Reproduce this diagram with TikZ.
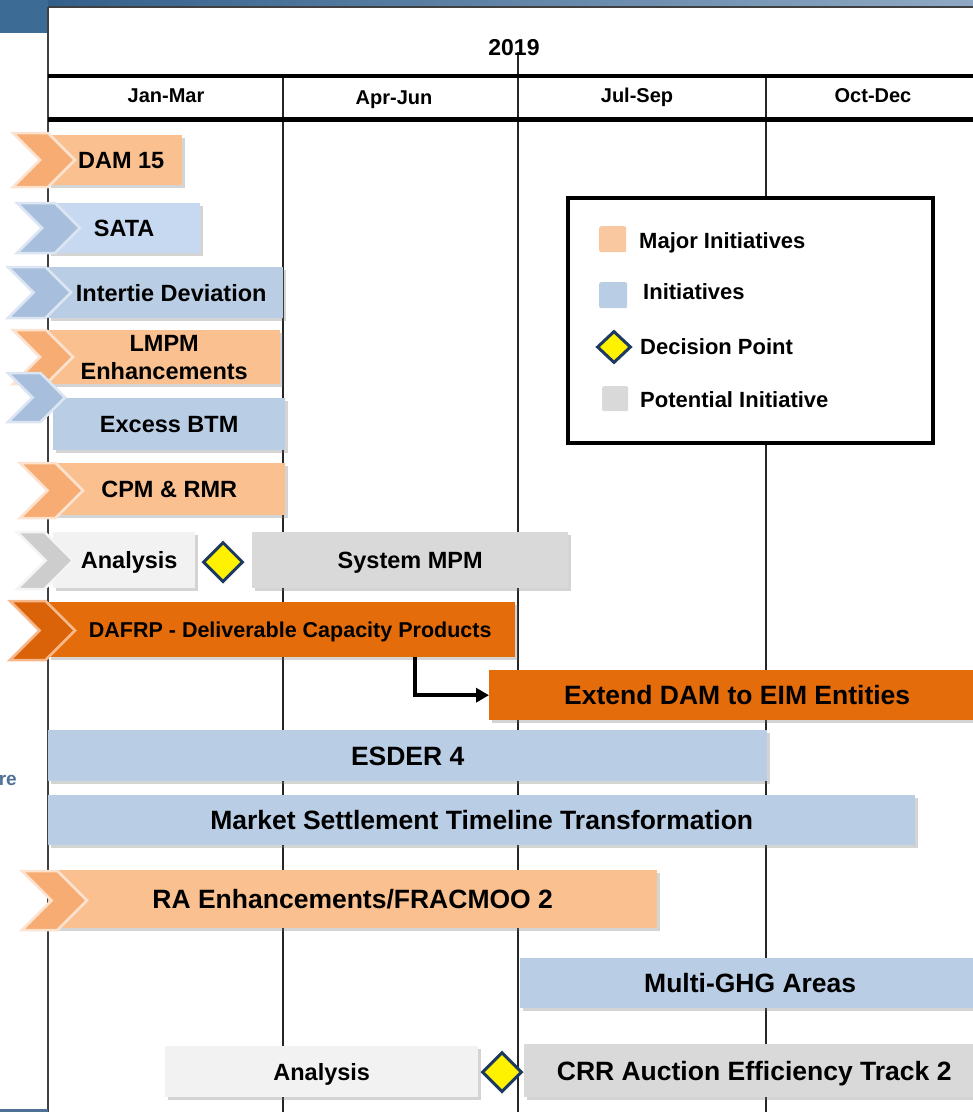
\documentclass[tikz,border=0pt]{standalone}
\usepackage{fontspec}
\setmainfont{Liberation Sans}
\usetikzlibrary{shapes.geometric,shadows,arrows.meta}

\definecolor{lorange}{HTML}{FAC090}
\definecolor{chevor}{HTML}{F6AC72}
\definecolor{chevorb}{HTML}{FDE3CF}
\definecolor{lblue}{HTML}{B9CDE5}
\definecolor{lblueb}{HTML}{C6D9F0}
\definecolor{chevbl}{HTML}{A7BEDC}
\definecolor{chevblb}{HTML}{DCE6F2}
\definecolor{vlgray}{HTML}{F2F2F2}
\definecolor{mgray}{HTML}{D9D9D9}
\definecolor{chevgr}{HTML}{CDCDCD}
\definecolor{chevgrb}{HTML}{F4F4F4}
\definecolor{dorange}{HTML}{E46C0A}
\definecolor{chevdo}{HTML}{DA6208}
\definecolor{chevdob}{HTML}{F6B88A}
\definecolor{navy}{HTML}{1F3A60}
\definecolor{bandL}{HTML}{2E5C88}
\definecolor{bandR}{HTML}{8FA9C4}
\definecolor{bandblock}{HTML}{3C6B95}
\definecolor{retext}{HTML}{4F7096}
\definecolor{legor}{HTML}{FAC8A0}

\newcommand\mychev[6]{%
  \pgfmathsetmacro\chp{(#4-#3)*0.5}%
  \pgfmathsetmacro\chm{(#3+#4)/2}%
  \filldraw[fill=#5, draw=#6, line width=2.5pt, line join=miter]
    (#1,#3) -- ({#2-\chp},#3) -- (#2,\chm) -- ({#2-\chp},#4) -- (#1,#4) -- ({#1+\chp},\chm) -- cycle;
}

\tikzset{
  bar/.style={rectangle, anchor=north west, inner sep=0pt,
    font=\fontsize{23.5}{28}\selectfont\bfseries, text height=16.8pt, text depth=0pt,
    drop shadow={shadow xshift=3pt, shadow yshift=-3pt, fill=black!55, opacity=0.3}},
  bigbar/.style={bar, font=\fontsize{26.5}{31}\selectfont\bfseries, text height=19pt},
  hdr/.style={inner sep=0pt, font=\fontsize{20}{24}\selectfont\bfseries, text height=14.3pt, text depth=0pt},
  legtext/.style={anchor=west, inner sep=0pt, font=\fontsize{22}{26}\selectfont\bfseries, text height=15.8pt, text depth=0pt},
  legsq/.style={rectangle, anchor=north west, rounded corners=2pt, inner sep=0pt},
  decision/.style={diamond, draw=navy, fill=yellow, line width=3pt, inner sep=0pt, shape aspect=1},
  grid/.style={line width=2pt, black!85},
  flow/.style={line width=4pt, -{Triangle[length=13pt,width=14pt]}},
}

\begin{document}
\begin{tikzpicture}[x=1pt, y=-1pt]
\useasboundingbox (0,0) rectangle (973,1112);

% top band and panel
\fill[left color=bandL, right color=bandR] (0,0) rectangle (973,7);
\fill[bandblock] (0,0) rectangle (48,33);
\fill[white] (48,7) rectangle (973,1112);
\draw[line width=1.2pt, black!75] (48,7) -- (973,7);
\draw[line width=1.5pt, black!75] (48,7) -- (48,1112);
\fill[retext] (0,1108.5) rectangle (48,1112);
\node[anchor=base east, inner sep=0pt, font=\fontsize{19}{22}\selectfont\bfseries, text=retext] (re) at (17,785) {re};

% grid
\draw[grid] (283,76) -- (283,1112);
\draw[grid] (518,52) -- (518,1112);
\draw[grid] (766,76) -- (766,1112);
\draw[line width=4pt] (48,76) -- (973,76);
\draw[line width=5pt] (48,119) -- (973,119);

% header text
\node[hdr, font=\fontsize{23}{27}\selectfont\bfseries, text height=16.5pt] (year) at (514,47) {2019};
\node[hdr] (q1) at (166,95) {Jan-Mar};
\node[hdr] (q2) at (394,97) {Apr-Jun};
\node[hdr] (q3) at (637,95) {Jul-Sep};
\node[hdr] (q4) at (873,95) {Oct-Dec};

% legend
\draw[line width=4pt, fill=white] (568,198) rectangle (933,443);
\node[legsq, fill=legor, minimum width=27pt, minimum height=26pt] (lg1) at (599,226) {};
\node[legtext] (lt1) at (639,241) {Major Initiatives};
\node[legsq, fill=lblue, minimum width=28pt, minimum height=26pt] (lg2) at (599,282) {};
\node[legtext] (lt2) at (643,292) {Initiatives};
\node[decision, minimum width=34pt, minimum height=32pt] (lg3) at (614,347) {};
\node[legtext] (lt3) at (640,347) {Decision Point};
\node[legsq, fill=mgray, minimum width=26pt, minimum height=25pt] (lg4) at (602,386) {};
\node[legtext] (lt4) at (640,400) {Potential Initiative};

% bars
\node[bar, fill=lorange, minimum width=134pt, minimum height=50pt] (dam) at (48,135) {\hspace*{12pt}DAM 15};
\mychev{13}{75}{133}{187}{chevor}{chevorb}

\node[bar, fill=lblueb, minimum width=152pt, minimum height=50pt] (sata) at (48,203) {SATA};
\mychev{17}{80}{203}{253}{chevbl}{chevblb}

\node[bar, fill=lblue, minimum width=235pt, minimum height=51pt] (intertie) at (48,267) {\hspace*{11pt}Intertie Deviation};
\mychev{8}{71}{267}{318}{chevbl}{chevblb}

\node[bar, fill=lorange, minimum width=232pt, minimum height=54pt, align=center, text height=44.8pt] (lmpm) at (48,330) {LMPM\\Enhancements};
\mychev{13}{73}{330}{384}{chevor}{chevorb}

\node[bar, fill=lblue, minimum width=232pt, minimum height=52pt] (excess) at (53,398) {Excess BTM};
\mychev{8}{65}{373}{422}{chevbl}{chevblb}

\node[bar, fill=lorange, minimum width=232pt, minimum height=52pt] (cpm) at (53,463) {CPM \& RMR};
\mychev{20}{83}{463}{518}{chevor}{chevorb}

\node[bar, fill=vlgray, minimum width=142pt, minimum height=56pt] (ana1) at (53,532) {\hspace*{10pt}Analysis};
\mychev{17}{73}{532}{589}{chevgr}{chevgrb}
\node[decision, minimum width=40pt, minimum height=40pt] (dp1) at (223,562) {};
\node[bar, fill=mgray, minimum width=316pt, minimum height=56pt] (sysmpm) at (252,532) {System MPM};

\node[bar, fill=dorange, minimum width=467pt, minimum height=55pt, font=\fontsize{21.5}{26}\selectfont\bfseries, text height=15.4pt] (dafrp) at (48,602) {\hspace*{17pt}DAFRP - Deliverable Capacity Products};
\mychev{10}{75}{601}{660}{chevdo}{chevdob}

\node[bigbar, fill=dorange, minimum width=496pt, minimum height=50pt] (extend) at (489,670) {Extend DAM to EIM Entities};
\draw[flow] ([xshift=133.5pt]dafrp.south) |- (extend.west);

\node[bigbar, fill=lblue, minimum width=719pt, minimum height=51pt] (esder) at (48,730) {ESDER 4};
\node[bigbar, fill=lblue, minimum width=867pt, minimum height=50pt] (mstt) at (48,795) {Market Settlement Timeline Transformation};

\node[bigbar, fill=lorange, minimum width=609pt, minimum height=58pt] (ra) at (48,870) {RA Enhancements/FRACMOO 2};
\mychev{22}{87}{871}{930}{chevor}{chevorb}

\node[bigbar, fill=lblue, minimum width=460pt, minimum height=50pt] (ghg) at (520,958) {Multi-GHG Areas};

\node[bar, fill=vlgray, minimum width=313pt, minimum height=51pt] (ana2) at (165,1046) {Analysis};
\node[decision, minimum width=40pt, minimum height=40pt] (dp2) at (502,1072) {};
\node[bigbar, fill=mgray, minimum width=460pt, minimum height=53pt] (crr) at (524,1044) {CRR Auction Efficiency Track 2};
\end{tikzpicture}
\end{document}
